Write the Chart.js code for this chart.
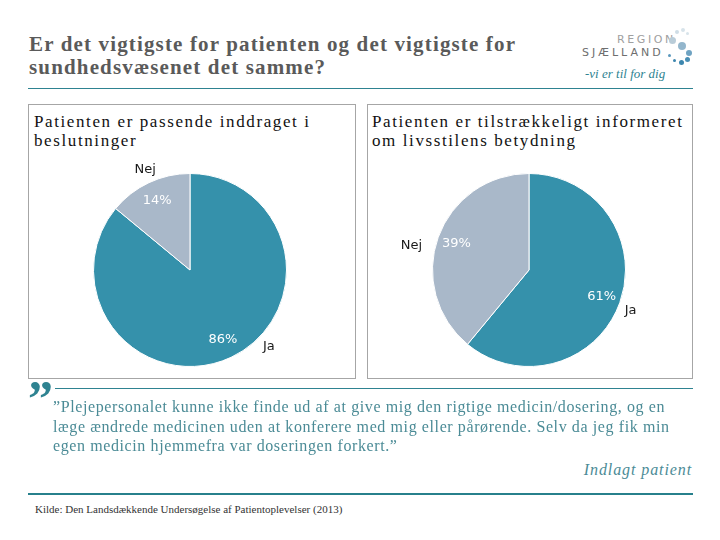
<!DOCTYPE html>
<html>
<head>
<meta charset="utf-8">
<script src="https://cdn.jsdelivr.net/npm/chart.js@4/dist/chart.umd.min.js"></script>
<style>
  body { margin: 0; width: 720px; height: 540px; background: #fff; position: relative; overflow: hidden; }
  .abs { position: absolute; white-space: nowrap; }
  #title { left: 29px; top: 33px; font: bold 21px "Liberation Serif", serif; letter-spacing: 1.15px; color: #5a5a5a; line-height: 23px; }
  .rule { position: absolute; background: #2e8391; }
  .panel { position: absolute; border: 1px solid #a6a6a6; box-sizing: border-box; }
  .ptitle { position: absolute; white-space: nowrap; font: 17px "Liberation Serif", serif; letter-spacing: 1.6px; color: #111; line-height: 19px; }
  #quote { left: 53px; top: 397px; font: 16px "Liberation Serif", serif; letter-spacing: 0.6px; color: #4b8b96; line-height: 19.5px; }
  #who { right: 28px; top: 461px; font: italic 16px "Liberation Serif", serif; letter-spacing: 0.9px; color: #4b8b96; }
  #qmark { left: 28px; top: 374px; font: bold 50px "Liberation Serif", serif; color: #2e8391; line-height: 48px; }
  #src { left: 35px; top: 503px; font: 11px "Liberation Serif", serif; color: #333; }
  .dot { position: absolute; border-radius: 50%; }
</style>
</head>
<body>
<div id="title" class="abs">Er det vigtigste for patienten og det vigtigste for<br>sundhedsvæsenet det samme?</div>

<!-- logo -->
<div class="abs" style="left:617px;top:33px;font:11px 'DejaVu Sans';letter-spacing:2.6px;color:#a0a0a0;">REGION</div>
<div class="abs" style="left:582px;top:46px;font:11px 'DejaVu Sans';letter-spacing:3px;color:#6e6e6e;">SJÆLLAND</div>
<div class="abs" style="left:585px;top:66px;font:italic 13px 'Liberation Serif';color:#2e8391;">-vi er til for dig</div>
<div class="dot" style="left:675px;top:30px;width:4px;height:4px;background:#cfdde6"></div>
<div class="dot" style="left:681px;top:28px;width:4px;height:4px;background:#d7e3ea"></div>
<div class="dot" style="left:686px;top:32px;width:3px;height:3px;background:#d7e3ea"></div>
<div class="dot" style="left:669px;top:37px;width:7px;height:7px;background:#b9ccd8"></div>
<div class="dot" style="left:678px;top:42px;width:8px;height:8px;background:#93b6cc"></div>
<div class="dot" style="left:686px;top:50px;width:6px;height:6px;background:#6fa3c2"></div>
<div class="dot" style="left:685px;top:57px;width:5px;height:5px;background:#4a8fb5"></div>
<div class="dot" style="left:679px;top:60px;width:5px;height:5px;background:#3c86ae"></div>
<div class="dot" style="left:673px;top:59px;width:3px;height:3px;background:#3c86ae"></div>
<div class="dot" style="left:668px;top:54px;width:3px;height:3px;background:#5a98bd"></div>

<div class="rule" style="left:28px;top:88px;width:665px;height:1px;"></div>

<div class="panel" style="left:28px;top:104px;width:328px;height:275px;"></div>
<div class="panel" style="left:367px;top:104px;width:326px;height:275px;"></div>
<div class="ptitle" style="left:34px;top:112px;">Patienten er passende inddraget i<br>beslutninger</div>
<div class="ptitle" style="left:372px;top:112px;">Patienten er tilstrækkeligt informeret<br>om livsstilens betydning</div>

<canvas id="pie1" class="abs" style="left:30px;top:150px;" width="320" height="240"></canvas>
<canvas id="pie2" class="abs" style="left:369px;top:150px;" width="320" height="240"></canvas>

<div id="qmark" class="abs">”</div>
<div class="rule" style="left:55px;top:388px;width:638px;height:1px;"></div>
<div id="quote" class="abs">”Plejepersonalet kunne ikke finde ud af at give mig den rigtige medicin/dosering, og en<br>læge ændrede medicinen uden at konferere med mig eller pårørende. Selv da jeg fik min<br>egen medicin hjemmefra var doseringen forkert.”</div>
<div id="who" class="abs">Indlagt patient</div>

<div class="rule" style="left:28px;top:493px;width:665px;height:2px;background:#27808c;"></div>
<div id="src" class="abs">Kilde: Den Landsdækkende Undersøgelse af Patientoplevelser (2013)</div>

<script>
const categories = ["Ja", "Nej"];
const inddragetValues = [86, 14];
const informeretValues = [61, 39];
const sliceColors = ["#3591ab", "#a9b8c9"];

// tegner procent inde i skiven og kategori ved siden af
const pieLabels = {
  id: "pieLabels",
  afterDatasetsDraw(chart, args, opts) {
    const ctx = chart.ctx;
    const meta = chart.getDatasetMeta(0);
    const data = chart.data.datasets[0].data;
    meta.data.forEach((arc, i) => {
      const p = arc.getProps(["x", "y", "startAngle", "endAngle", "outerRadius"], true);
      const mid = (p.startAngle + p.endAngle) / 2;
      const px = p.x + Math.cos(mid) * p.outerRadius * 0.8;
      const py = p.y + Math.sin(mid) * p.outerRadius * 0.8;
      ctx.save();
      ctx.textAlign = "center";
      ctx.textBaseline = "middle";
      ctx.font = "13px 'DejaVu Sans'";
      ctx.fillStyle = "#ffffff";
      ctx.fillText(data[i] + "%", px, py);
      const off = opts.offsets[i];
      ctx.fillStyle = "#1a1a1a";
      ctx.fillText(chart.data.labels[i], px + off[0], py + off[1]);
      ctx.restore();
    });
  }
};

function makePie(id, values, offsets) {
  return new Chart(document.getElementById(id), {
    type: "pie",
    data: {
      labels: categories,
      datasets: [{
        data: values,
        backgroundColor: sliceColors,
        borderColor: "#ffffff",
        borderWidth: 1
      }]
    },
    options: {
      responsive: false,
      animation: false,
      layout: { padding: { left: 63, right: 63, top: 22, bottom: 22 } },
      plugins: {
        legend: { display: false },
        tooltip: { enabled: false },
        pieLabels: { offsets: offsets }
      }
    },
    plugins: [pieLabels]
  });
}

makePie("pie1", inddragetValues, [[46, 7], [-12, -31]]);
makePie("pie2", informeretValues, [[29, 14], [-45, 2]]);
</script>
</body>
</html>
